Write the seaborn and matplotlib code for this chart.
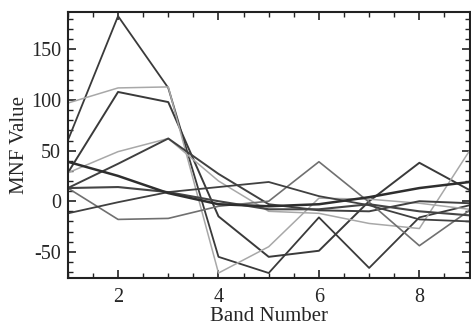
import numpy as np
import pandas as pd
import matplotlib
matplotlib.use("Agg")
import matplotlib.pyplot as plt
import seaborn as sns
from matplotlib.ticker import MultipleLocator

bands = [1, 2, 3, 4, 5, 6, 7, 8, 9]

mnf1 = [60, 183, 112, -55, -71, -16, -66, -16, -4]
mnf2 = [28, 108, 98, -15, -55, -49, 0, 38, 11]
mnf3 = [97, 112, 113, -71, -45, 3, 2, -2, -8]
mnf4 = [28, 49, 62, 20, -10, -12, -22, -27, 50]
mnf5 = [13, 37, 62, 27, -3, -9, -10, 0, -2]
mnf6 = [13, -18, -17, -5, 0, 39, -1, -44, -9]
mnf7 = [13, 14, 9, 0, -8, -8, -3, -10, -14]
mnf8 = [-12, -1, 9, 14, 19, 5, -4, -18, -20]
mnf9 = [39, 25, 8, -3, -5, -3, 4, 13, 19]

series_names = ["MNF1", "MNF2", "MNF3", "MNF4", "MNF5", "MNF6", "MNF7", "MNF8", "MNF9"]
series_vals = [mnf1, mnf2, mnf3, mnf4, mnf5, mnf6, mnf7, mnf8, mnf9]
series_colors = ["#3a3a3a", "#3a3a3a", "#a8a8a8", "#a8a8a8", "#404040",
                 "#707070", "#454545", "#404040", "#2e2e2e"]
series_widths = [1.3, 1.4, 1.1, 1.1, 1.4, 1.2, 1.5, 1.3, 1.8]

rows = []
for name, vals in zip(series_names, series_vals):
    for b, v in zip(bands, vals):
        rows.append({"Band": b, "Value": v, "Series": name})
df = pd.DataFrame(rows)

sns.set_style("ticks")
plt.rcParams["font.family"] = ["Liberation Serif", "DejaVu Serif"]
plt.rcParams["axes.unicode_minus"] = False

fig = plt.figure(figsize=(4.71, 3.26), dpi=100)
ax = fig.add_axes([0.144, 0.147, 0.853, 0.816])

palette = dict(zip(series_names, series_colors))
sns.lineplot(data=df, x="Band", y="Value", hue="Series", palette=palette,
             legend=False, ax=ax, linewidth=1.3)
for line, lw in zip(ax.get_lines(), series_widths):
    line.set_linewidth(lw)

ax.set_xlim(1, 9)
ax.set_ylim(-76, 187)
ax.xaxis.set_major_locator(MultipleLocator(2))
ax.xaxis.set_minor_locator(MultipleLocator(0.5))
ax.yaxis.set_major_locator(MultipleLocator(50))
ax.yaxis.set_minor_locator(MultipleLocator(10))
ax.tick_params(which="both", direction="in", top=True, right=True,
               labelsize=14.5, color="#222222")
ax.tick_params(axis="x", which="major", pad=7)
ax.tick_params(axis="y", which="major", pad=5)
ax.tick_params(which="major", length=6, width=1.2)
ax.tick_params(which="minor", length=3.5, width=1.0)
for s in ax.spines.values():
    s.set_linewidth(1.5)
    s.set_color("#222222")

ax.set_xlabel("Band Number", fontsize=15, labelpad=0)
ax.set_ylabel("MNF Value", fontsize=15, labelpad=1)

fig.savefig("out.png", dpi=100)
